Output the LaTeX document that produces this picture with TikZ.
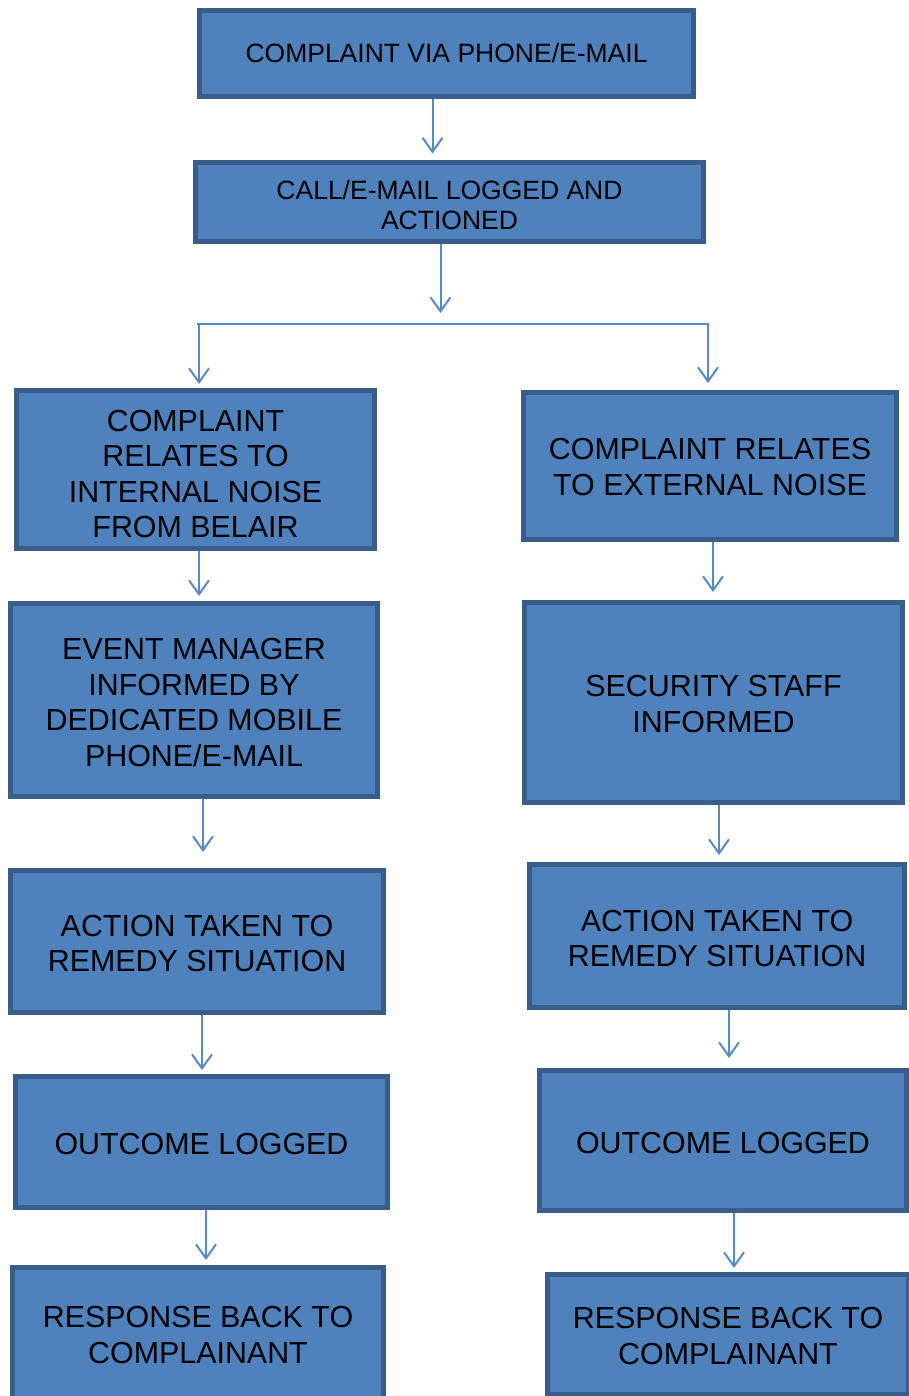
\documentclass[tikz,border=0pt]{standalone}
\usepackage{fontspec}
\setmainfont{Liberation Sans}
\usetikzlibrary{arrows.meta}
\definecolor{boxfill}{HTML}{4F81BD}
\definecolor{boxline}{HTML}{385D8A}
\definecolor{arrowc}{HTML}{5A8AC6}
\newcommand\lineup[1]{\rule{0pt}{#1}}
\tikzset{
  box/.style={draw=boxline, fill=boxfill, line width=5pt, inner sep=0pt, align=center,
    font=\fontsize{30.4}{35.5}\selectfont},
  smallbox/.style={box, font=\fontsize{26.5}{30}\selectfont},
  arr/.style={draw=arrowc, line width=2pt, -{Straight Barb[length=14pt,width=20pt,line width=2pt]}},
  link/.style={draw=arrowc, line width=2pt}
}
\begin{document}
\begin{tikzpicture}[x=1pt,y=-1pt]
\useasboundingbox (0,0) rectangle (909,1396);
\node[smallbox, minimum width=494pt, minimum height=86pt] (top) at (446.5,53.5) {COMPLAINT VIA PHONE/E-MAIL};
\node[smallbox, minimum width=508pt, minimum height=79pt] (log) at (449.5,202.5) {\lineup{25pt}CALL/E-MAIL LOGGED AND\\ACTIONED};
\node[box, minimum width=358pt, minimum height=158pt] (L1) at (195.5,469.5) {\lineup{29.8pt}COMPLAINT\\RELATES TO\\INTERNAL NOISE\\FROM BELAIR};
\node[box, minimum width=373pt, minimum height=147pt] (R1) at (710,466) {\lineup{22.8pt}COMPLAINT RELATES\\TO EXTERNAL NOISE};
\node[box, minimum width=367pt, minimum height=193pt] (L2) at (194,700) {\lineup{25.8pt}EVENT MANAGER\\INFORMED BY\\DEDICATED MOBILE\\PHONE/E-MAIL};
\node[box, minimum width=378pt, minimum height=200pt] (R2) at (713.5,702.5) {\lineup{23.8pt}SECURITY STAFF\\INFORMED};
\node[box, minimum width=373pt, minimum height=142pt] (L3) at (197,941.5) {\lineup{24.8pt}ACTION TAKEN TO\\REMEDY SITUATION};
\node[box, minimum width=375pt, minimum height=143pt] (R3) at (717,936) {\lineup{25.8pt}ACTION TAKEN TO\\REMEDY SITUATION};
\node[box, minimum width=372pt, minimum height=131pt] (L4) at (201.5,1142) {\lineup{25.8pt}OUTCOME LOGGED};
\node[box, minimum width=367pt, minimum height=140pt] (R4) at (723,1140.5) {\lineup{25.8pt}OUTCOME LOGGED};
\node[box, minimum width=371pt, minimum height=132pt] (L5) at (198,1333.5) {\lineup{23.8pt}RESPONSE BACK TO\\COMPLAINANT};
\node[box, minimum width=361pt, minimum height=120pt] (R5) at (728,1334.5) {\lineup{23.8pt}RESPONSE BACK TO\\COMPLAINANT};
\coordinate (jt) at (440.5,313);
\coordinate (hl) at (197,324);
\coordinate (hr) at (709,324);
\draw[arr, shorten >=7pt] (top.south -| 432.5,0) -- (log.north -| 432.5,0);
\draw[arr] (log.south -| 440.5,0) -- (jt);
\draw[link] (hl) -- (hr);
\draw[arr, shorten >=4pt] (hl -| 199,0) -- (L1.north -| 199,0);
\draw[arr, shorten >=7pt] (hr -| 708,0) -- (R1.north -| 708,0);
\draw[arr, shorten >=5pt] (L1.south -| 199,0) -- (L2.north -| 199,0);
\draw[arr, shorten >=8pt] (R1.south -| 713,0) -- (R2.north -| 713,0);
\draw[arr, shorten >=16pt] (L2.south -| 203,0) -- (L3.north -| 203,0);
\draw[arr, shorten >=7pt] (R2.south -| 719,0) -- (R3.north -| 719,0);
\draw[arr, shorten >=4pt] (L3.south -| 202,0) -- (L4.north -| 202,0);
\draw[arr, shorten >=10pt] (R3.south -| 729,0) -- (R4.north -| 729,0);
\draw[arr, shorten >=5pt] (L4.south -| 206,0) -- (L5.north -| 206,0);
\draw[arr, shorten >=4pt] (R4.south -| 734,0) -- (R5.north -| 734,0);
\end{tikzpicture}
\end{document}
